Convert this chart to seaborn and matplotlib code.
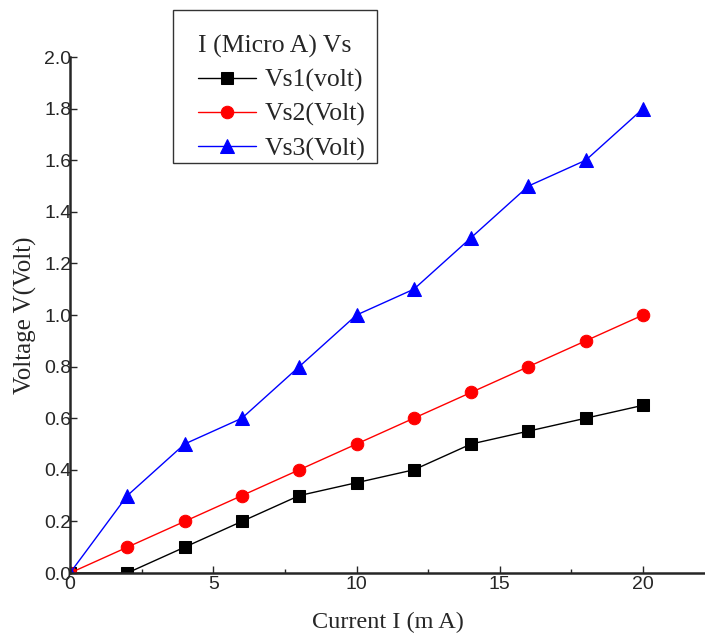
import matplotlib
matplotlib.use("Agg")
import matplotlib.pyplot as plt
import seaborn as sns
import pandas as pd
from matplotlib.ticker import MultipleLocator
from matplotlib.patches import Rectangle

current = [0, 2, 4, 6, 8, 10, 12, 14, 16, 18, 20]
vs1 = [0, 0, 0.1, 0.2, 0.3, 0.35, 0.4, 0.5, 0.55, 0.6, 0.65]
vs2 = [0, 0.1, 0.2, 0.3, 0.4, 0.5, 0.6, 0.7, 0.8, 0.9, 1.0]
vs3 = [0, 0.3, 0.5, 0.6, 0.8, 1.0, 1.1, 1.3, 1.5, 1.6, 1.8]
series_names = ["Vs1(volt)", "Vs2(Volt)", "Vs3(Volt)"]
y_tick_labels = ["0.0", "0.2", "0.4", "0.6", "0.8", "1.0", "1.2", "1.4", "1.6", "1.8", "2.0"]

sns.set_style("ticks")
plt.rcParams['font.family'] = ['Liberation Sans', 'DejaVu Sans']

W, H = 705, 640
fig = plt.figure(figsize=(W / 100, H / 100), dpi=100)
ax = fig.add_axes([70 / W, 1 - 573 / H, 1 - 70 / W, (573 - 57) / H])

styles = [("black", "s", 8), ("red", "o", 9), ("blue", "^", 10)]
for name, vals, (c, m, ms) in zip(series_names, [vs1, vs2, vs3], styles):
    df = pd.DataFrame({"x": current, "y": vals})
    sns.lineplot(data=df, x="x", y="y", ax=ax, color=c, marker=m, markersize=ms,
                 markeredgecolor=c, linewidth=1, label=name)

ax.set_xlim(0, 22.16)
ax.set_ylim(0, 2.0)
ax.xaxis.set_major_locator(MultipleLocator(5))
ax.xaxis.set_minor_locator(MultipleLocator(2.5))
ax.set_yticks([float(t) for t in y_tick_labels])
ax.set_yticklabels(y_tick_labels)
ax.tick_params(axis="both", which="both", direction="in", labelsize=14)
ax.tick_params(axis="x", which="both", pad=2)
ax.tick_params(axis="y", which="both", pad=-1)
ax.tick_params(axis="both", which="major", length=5, width=1)
ax.tick_params(axis="both", which="minor", length=3, width=1)
for s in ["top", "right"]:
    ax.spines[s].set_visible(False)
for s in ["left", "bottom"]:
    ax.spines[s].set_linewidth(1.8)

ax.set_xlabel("Current I (m A)", fontsize=17.5, family="Liberation Serif", labelpad=14)
ax.set_ylabel("Voltage V(Volt)", fontsize=18, family="Liberation Serif", labelpad=5)

leg = ax.legend(title="I (Micro A) Vs", loc="upper left",
                bbox_to_anchor=(198 / W, 1 - 35 / H),
                bbox_transform=fig.transFigure, frameon=False,
                prop={"family": "Liberation Serif", "size": 18.5},
                title_fontproperties={"family": "Liberation Serif", "size": 18.5},
                borderpad=0, handlelength=2.25, handletextpad=0.35,
                labelspacing=0.42, borderaxespad=0)
leg._legend_box.align = "left"

fig.patches.append(Rectangle((173 / W, 1 - 163 / H), (377 - 173) / W, (163 - 10) / H,
                             transform=fig.transFigure, fill=False,
                             edgecolor="#333333", linewidth=1, zorder=5))

fig.savefig("out.png", dpi=100)
